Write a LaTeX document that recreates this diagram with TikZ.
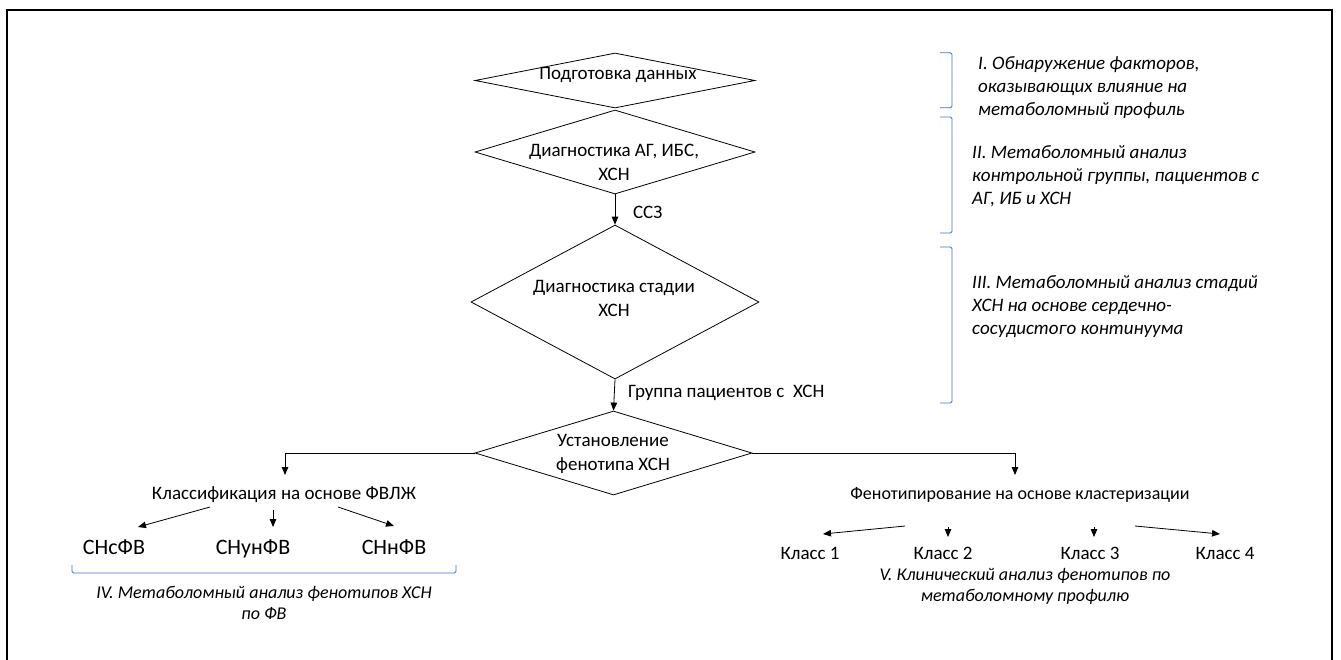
\documentclass[tikz,border=0pt]{standalone}
\usepackage{fontspec}
\setmainfont{Carlito}
\usetikzlibrary{arrows.meta,shapes.geometric}
\definecolor{brkc}{HTML}{4472C4}
\begin{document}
\begin{tikzpicture}[x=1pt,y=-1pt,
  dia/.style={draw, shape=diamond, inner sep=0pt, line width=0.8pt},
  txt/.style={font=\fontsize{19}{24}\selectfont, inner sep=0pt, align=center},
  txs/.style={font=\fontsize{18}{23}\selectfont, inner sep=0pt, align=center},
  big/.style={font=\fontsize{22}{26}\selectfont, inner sep=0pt, anchor=base},
  itx/.style={font=\fontsize{19}{23}\selectfont\itshape, inner sep=0pt},
  its/.style={font=\fontsize{18}{21}\selectfont\itshape, inner sep=0pt},
  arr/.style={line width=0.8pt, -{Triangle[length=8pt,width=6.5pt]}},
  brk/.style={draw=brkc, line width=0.9pt, rounded corners=1.5pt},
]
\useasboundingbox (0,0) rectangle (1341,659);
\clip (0,0) rectangle (1341,659);
\fill[white] (0,0) rectangle (1341,659);
% frame
\draw[line width=2pt] (7,700) -- (7,10) -- (1332,10) -- (1332,700);

% diamonds
\node[dia, minimum width=280pt, minimum height=55pt] (d1) at (615,80.5) {};
\node[dia, minimum width=280pt, minimum height=84pt] (d2) at (615,152) {};
\node[dia, minimum width=288pt, minimum height=154pt] (d3) at (615,302) {};
\node[dia, minimum width=277pt, minimum height=84pt] (d4) at (613.5,453) {};

\node[txt] (t1) at (618,75) {Подготовка данных};
\node[txt] (t2) at (614,162.5) {Диагностика АГ, ИБС,\\ХСН};
\node[txt] (t3) at (614,298.5) {Диагностика стадии\\ХСН};
\node[txt] (t4) at (613,453.5) {Установление\\фенотипа ХСН};

\draw[arr] (d2.south) -- (d3.north);
\draw[arr] (d3.south) -- (d4.north);
\node[txt, anchor=west] (l1) at (633,212) {ССЗ};
\node[txt, anchor=west] (l2) at (628,393) {Группа пациентов с \ ХСН};

% left branch
\coordinate (lt) at (285,475);
\draw[arr] (d4.west) -| (lt);
\node[txt] (cls) at (284,495) {Классификация на основе ФВЛЖ};
\node[big] (s1) at (114,554) {СНсФВ};
\node[big] (s2) at (253,554) {СНунФВ};
\node[big] (s3) at (394,554) {СНнФВ};
\coordinate (a1s) at (210,507); \coordinate (a1e) at (138,527);
\coordinate (a2s) at (273,510); \coordinate (a2e) at (273,527);
\coordinate (a3s) at (338,507); \coordinate (a3e) at (394,526);
\draw[arr] (a1s) -- (a1e);
\draw[arr] (a2s) -- (a2e);
\draw[arr] (a3s) -- (a3e);
\draw[brk] (72,565) -- (72,573) -- (456,573) -- (456,565);
\node[its, align=center] (iv) at (264,602.5) {IV. Метаболомный анализ фенотипов ХСН\\по ФВ};

% right branch
\coordinate (rt) at (1015,475);
\draw[arr] (d4.east) -| (rt);
\node[txs] (fen) at (1020,495) {Фенотипирование на основе кластеризации};
\node[txt] (k1) at (810,553) {Класс 1};
\node[txt] (k2) at (943,553) {Класс 2};
\node[txt] (k3) at (1090,553) {Класс 3};
\node[txt] (k4) at (1225,553) {Класс 4};
\coordinate (b1s) at (905,526); \coordinate (b1e) at (823,534);
\coordinate (b2s) at (948,527); \coordinate (b2e) at (948,537);
\coordinate (b3s) at (1094,527); \coordinate (b3e) at (1094,537);
\coordinate (b4s) at (1135,526); \coordinate (b4e) at (1220,534);
\draw[arr] (b1s) -- (b1e);
\draw[arr] (b2s) -- (b2e);
\draw[arr] (b3s) -- (b3e);
\draw[arr] (b4s) -- (b4e);
\node[its, align=center] (v) at (1025,586) {V. Клинический анализ фенотипов по\\метаболомному профилю};

% right brackets and stage texts
\draw[brk] (940,52.7) -- (952,52.7) -- (952,107.7) -- (940,107.7);
\draw[brk] (940,117) -- (952,117) -- (952,233) -- (940,233);
\draw[brk] (940,247) -- (952,247) -- (952,403) -- (940,403);
\node[itx, align=left, anchor=west] (s1t) at (978,88) {I. Обнаружение факторов,\\оказывающих влияние на\\метаболомный профиль};
\node[itx, align=left, anchor=west] (s2t) at (972,176) {II. Метаболомный анализ\\контрольной группы, пациентов с\\АГ, ИБ и ХСН};
\node[itx, align=left, anchor=west] (s3t) at (972,307) {III. Метаболомный анализ стадий\\ХСН на основе сердечно-\\сосудистого континуума};
\end{tikzpicture}
\end{document}
